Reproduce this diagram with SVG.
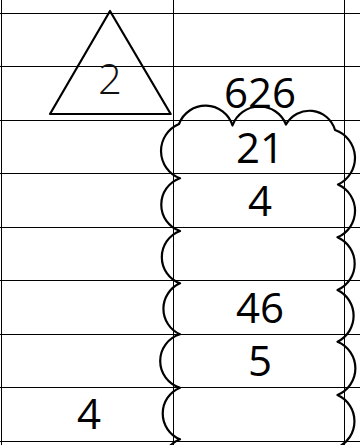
<svg xmlns="http://www.w3.org/2000/svg" width="360" height="445" viewBox="0 0 360 445">
<style>
.grid{stroke:#000;stroke-width:1;fill:none}
.shape{stroke:#000;stroke-width:2.2;fill:none;stroke-linejoin:round}
.t{font-family:"Open Sans","Liberation Sans",sans-serif;font-size:42px;fill:#000;text-anchor:middle}
.thin{font-weight:300;fill:#111}
</style>
<rect width="360" height="445" fill="#fff"/>
<g id="grid" class="grid">
<path d="M0 13.5H360M0 66.5H360M0 120.5H360M0 173.5H360M0 227.5H360M0 280.5H360M0 334.5H360M0 387.5H360M0 441.5H360"/>
<path d="M1.5 0V445M173.5 0V445M344.5 0V445"/>
</g>
<g id="connectors"/>
<g id="triangle">
<polygon class="shape" points="110,11 170.7,114 50,114"/>
<text class="t thin" x="110" y="94">2</text>
</g>
<g id="cloud">
<path class="shape" d="M179 124 A28.3 28.3 0 0 1 232.5 125.5 A28.6 28.6 0 0 1 286 124.5 A26.7 26.7 0 0 1 335 130 A29.4 29.4 0 0 1 338 184.5 A28.8 28.8 0 0 1 337.5 237.3 A28.8 28.8 0 0 1 337.5 290 A28.8 28.8 0 0 1 337.5 341.7 A28.8 28.8 0 0 1 337.5 395 A28.8 28.8 0 0 1 337.5 447.5 L337.5 520 L180 520 L180 491.5 A27.9 27.9 0 0 1 180 439.3 A27.9 27.9 0 0 1 180 387.7 A27.9 27.9 0 0 1 180 334.3 A27.9 27.9 0 0 1 180 283.3 A27.9 27.9 0 0 1 180 231 A27.9 27.9 0 0 1 180 178.3 A29.2 29.2 0 0 1 179 124 Z"/>
</g>
<g id="cells">
<text class="t" x="260" y="108">626</text>
<text class="t" x="260" y="163">21</text>
<text class="t" x="260" y="216">4</text>
<text class="t" x="260" y="323">46</text>
<text class="t" x="260" y="376">5</text>
<text class="t" x="89" y="429">4</text>
</g>
</svg>
